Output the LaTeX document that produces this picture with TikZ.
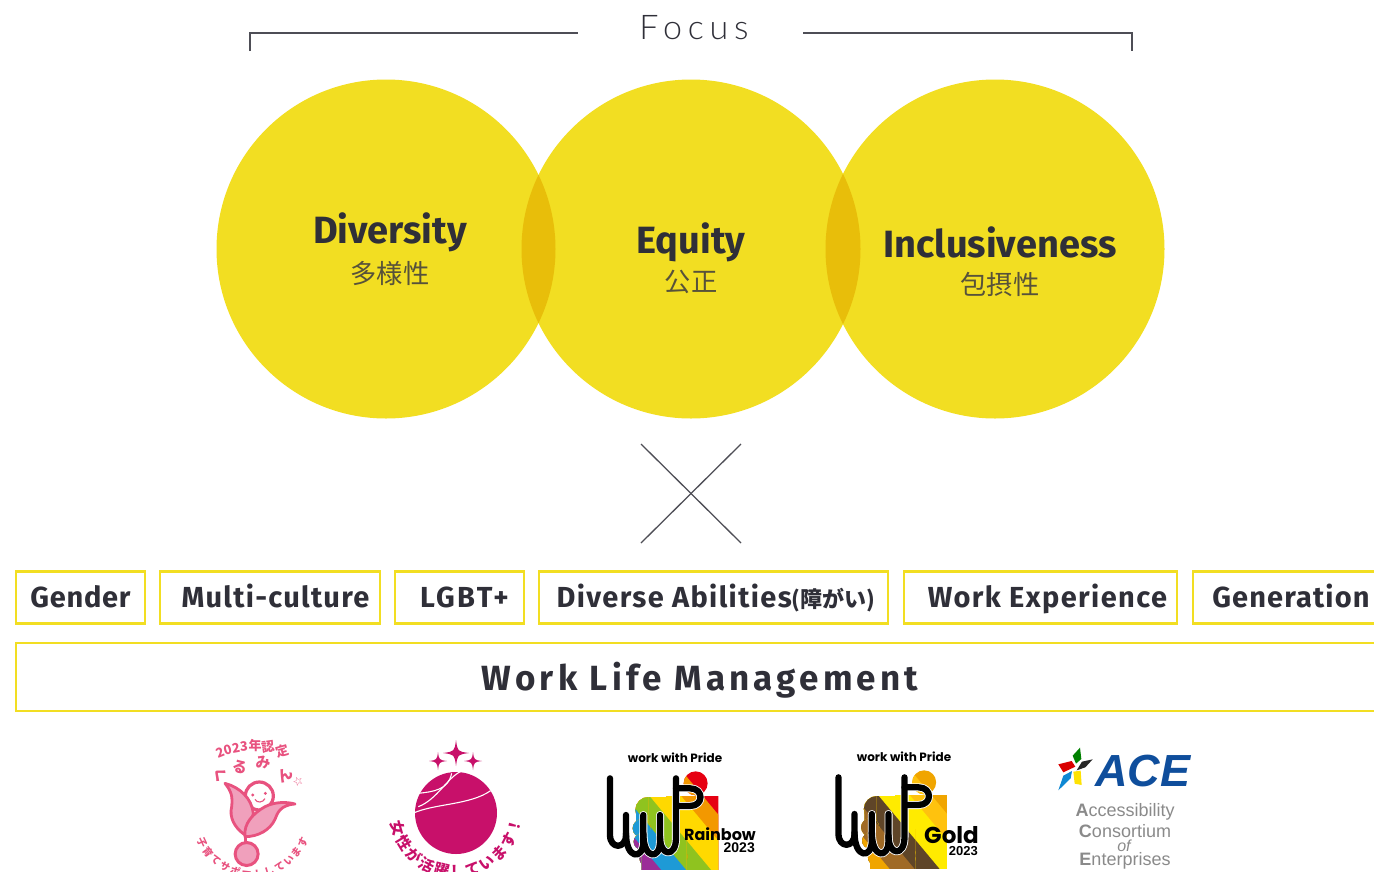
\documentclass[tikz,border=0pt]{standalone}
\usepackage{fontspec}
\setmainfont{Fira Sans}
\newfontfamily\cjk{Noto Sans CJK JP}
\newfontfamily\focusf[LetterSpace=17]{Lato Light}
\newfontfamily\tagf{Fira Sans}
\newfontfamily\widef[LetterSpace=12]{Fira Sans}
\newfontfamily\popf{Poppins}
\newfontfamily\libf{Liberation Sans}
\newfontfamily\djf{DejaVu Sans}
\newcommand\lsp[1]{\addfontfeature{LetterSpace=#1}}
\definecolor{ey}{HTML}{F2DE22}
\definecolor{eyd}{HTML}{E8BE0A}
\definecolor{ink}{HTML}{2F2F38}
\definecolor{jp}{HTML}{57523A}
\definecolor{kpink}{HTML}{E8527F}
\definecolor{kfill}{HTML}{F0A0BC}
\definecolor{magenta1}{HTML}{C8106A}
\definecolor{aceb}{HTML}{0F4E9C}
\definecolor{aceg}{HTML}{8A8A8A}
\definecolor{r1}{HTML}{E60012}\definecolor{r2}{HTML}{F39800}\definecolor{r3}{HTML}{FFD900}
\definecolor{r4}{HTML}{8FC31F}\definecolor{r5}{HTML}{1E9AD6}\definecolor{r6}{HTML}{9B2D98}
\definecolor{g1}{HTML}{F0A500}\definecolor{g2}{HTML}{FFC20E}\definecolor{g3}{HTML}{FFEB00}
\definecolor{g4}{HTML}{5F4528}\definecolor{g5}{HTML}{A06A26}\definecolor{g6}{HTML}{F0A500}
\tikzset{
 circ/.style={fill=ey,draw=none},
 tagbox/.style={draw=ey,line width=2.2pt,minimum height=52pt,inner sep=0pt,text height=20pt,text depth=0pt,font=\tagf\bfseries\fontsize{29}{30}\selectfont,text=ink},
 head/.style={font=\bfseries\fontsize{38}{40}\selectfont,text=ink,inner sep=0pt},
 subj/.style={font=\cjk\fontsize{26.3}{27}\selectfont,text=jp,inner sep=0pt},
 rulel/.style={draw=ink!85,line width=1.3pt},
 plain/.style={inner sep=0pt},
 wwp/.style={line width=6.3pt,draw=black,line cap=round,line join=round},
 halo/.style={line width=8pt,draw=white,line cap=round,line join=round},
}
\newcommand\sparkle[3]{\fill[magenta1] ({#1},{#2-#3}) .. controls ({#1+.12*#3},{#2-.12*#3}) .. ({#1+#3},{#2}) .. controls ({#1+.12*#3},{#2+.12*#3}) .. ({#1},{#2+#3}) .. controls ({#1-.12*#3},{#2+.12*#3}) .. ({#1-#3},{#2}) .. controls ({#1-.12*#3},{#2-.12*#3}) .. ({#1},{#2-#3});}
\newcommand\stripes[6]{%
 \fill[#1] (0,0) rectangle (400,320);
 \fill[#2] (310,80) -- (490,296) -- (490,330) -- (0,330) -- (0,-10) -- (235,-10) -- cycle;
 \fill[#3] (245,80) -- (445,320) -- (0,320) -- (0,-10) -- (170,-10) -- cycle;
 \fill[#4] (150,80) -- (350,320) -- (0,320) -- (0,-10) -- (75,-10) -- cycle;
 \fill[#5] (75,80) -- (275,320) -- (0,320) -- (0,-10) -- cycle;
 \fill[#6] (0,80) -- (200,320) -- (0,320) -- cycle;
}
\newcommand\blob[6]{%
 \begin{scope}\clip (287,40) circle[radius=12pt]; \stripes{#1}{#2}{#3}{#4}{#5}{#6}\end{scope}
 \begin{scope}\clip (200,80) rectangle (355,297); \stripes{#1}{#2}{#3}{#4}{#5}{#6}\end{scope}
 \begin{scope}\clip (145,120) circle[radius=13pt]; \stripes{#1}{#2}{#3}{#4}{#5}{#6}\end{scope}
 \begin{scope}\clip (108,120) rectangle (230,200); \stripes{#1}{#2}{#3}{#4}{#5}{#6}\end{scope}
 \begin{scope}\clip (145,82) rectangle (230,200); \stripes{#1}{#2}{#3}{#4}{#5}{#6}\end{scope}
 \begin{scope}\clip (125,175) circle[radius=9pt]; \stripes{#1}{#2}{#3}{#4}{#5}{#6}\end{scope}
 \begin{scope}\clip (125,215) circle[radius=8pt]; \stripes{#1}{#2}{#3}{#4}{#5}{#6}\end{scope}
 \begin{scope}\clip (155,260) circle[radius=12.5pt]; \stripes{#1}{#2}{#3}{#4}{#5}{#6}\end{scope}
 \begin{scope}\clip (225,260) circle[radius=12.5pt]; \stripes{#1}{#2}{#3}{#4}{#5}{#6}\end{scope}
 \begin{scope}\clip (125,180) rectangle (260,297); \stripes{#1}{#2}{#3}{#4}{#5}{#6}\end{scope}
}
\newcommand\wwpmark[1]{%
 \draw[#1] (30,25) -- (30,195) .. controls (30,238) and (78,238) .. (78,195) -- (78,135);
 \draw[#1] (78,190) .. controls (78,270) and (130,270) .. (130,215) -- (130,135);
 \draw[#1] (130,190) .. controls (130,270) and (180,270) .. (180,215) -- (180,135);
 \draw[#1] (180,200) .. controls (180,262) and (228,262) .. (228,205) -- (228,25);
 \draw[#1] (228,55) -- (270,55) .. controls (312,55) and (312,108) .. (270,108) -- (238,108);
}
\begin{document}
\begin{tikzpicture}[x=1pt,y=-1pt]
\useasboundingbox (0,0) rectangle (1374,871);
\clip (0,0) rectangle (1374,871);
\coordinate (bl1) at (250,51); \coordinate (bl2) at (250,33); \coordinate (bl3) at (578,33);
\coordinate (br1) at (803,33); \coordinate (br2) at (1132,33); \coordinate (br3) at (1132,51);
\draw[rulel] (bl1) -- (bl2) -- (bl3);
\draw[rulel] (br1) -- (br2) -- (br3);
\node[plain,text=ink,font=\focusf\fontsize{34}{36}\selectfont] (focus) at (694,28) {Focus};
\fill[circ] (386,249) circle[radius=169.5pt];
\fill[circ] (691,249) circle[radius=169.5pt];
\fill[circ] (995,249) circle[radius=169.5pt];
\begin{scope}\clip (386,249) circle[radius=169.5pt]; \fill[eyd] (691,249) circle[radius=169.5pt];\end{scope}
\begin{scope}\clip (691,249) circle[radius=169.5pt]; \fill[eyd] (995,249) circle[radius=169.5pt];\end{scope}
\node[head] (d) at (390,232) {Diversity};
\node[subj] (dj1) at (390,273) {多様性};
\node[head] (e) at (691,242) {Equity};
\node[subj] (ej1) at (691,282) {公正};
\node[head] (i) at (1000,242) {Inclusiveness};
\node[subj] (ij1) at (1000,285) {包摂性};
\coordinate (x1) at (641,444); \coordinate (x2) at (741,543); \coordinate (x3) at (741,444); \coordinate (x4) at (641,543);
\draw[rulel] (x1) -- (x2);
\draw[rulel] (x3) -- (x4);
\node[tagbox,minimum width=129pt] (t1) at (80.5,597.5) {\lsp{2.5}Gender};
\node[tagbox,minimum width=220pt] (t2) at (270,597.5) {\hspace*{11pt}\lsp{4.4}Multi-culture};
\node[tagbox,minimum width=129pt] (t3) at (459.5,597.5) {\hspace*{10pt}\lsp{8}LGBT+};
\node[tagbox,minimum width=349pt] (t4) at (713.5,597.5) {\hspace*{5pt}\lsp{4.7}Diverse Abilities{\cjk\bfseries\fontsize{22}{22}\selectfont (障がい)}};
\node[tagbox,minimum width=273pt] (t5) at (1040.5,597.5) {\hspace*{14pt}\lsp{4.8}Work Experience};
\node[tagbox,minimum width=194pt] (t6) at (1290,597.5) {\hspace*{2pt}\lsp{3.9}Generation};
\node[tagbox,minimum width=1368pt,minimum height=68pt,text height=26pt,font=\widef\bfseries\fontsize{35}{36}\selectfont] (wlm) at (700,677) {Work Life Management};
% Kurumin
\foreach \t/\px/\py/\r/\s in {2/220/753/22/13,0/228/750/16/13,2/236/748/10/13,3/244/746/5/13,年/255/746/0/13,認/268/747/8/13,定/282/751/16/13,く/220/775/-40/15,る/240/767/-15/15,み/263/763/5/15,ん/285/775/30/15}
 \node[plain,text=kpink,font=\cjk\bfseries\fontsize{\s}{\s}\selectfont,rotate=\r] (k\px) at (\px,\py) {\t};
\node[plain,text=kpink,font=\djf\bfseries\fontsize{12}{12}\selectfont,rotate=25] (kst) at (298,781) {☆};
\foreach \t [count=\n] in {子,育,て,サ,ポ,ー,ト,し,て,い,ま,す}
 \node[plain,text=kpink,font=\cjk\bfseries\fontsize{10}{10}\selectfont,rotate={-65+(\n-1)*11.8}] (kb\n) at ({252.5+55.7*sin(-65+(\n-1)*11.8)},{818.6+55.7*cos(-65+(\n-1)*11.8)}) {\t};
\begin{scope}[shift={(190,780)},x=.3333pt,y=-.3333pt]
 \draw[kpink,line width=3pt,line join=round] (168,195) -- (168,150);
 \fill[white] (208,48) circle[radius=14pt];
 \draw[kpink,line width=3.2pt] (208,48) circle[radius=14pt];
 \fill[kfill,draw=kpink,line width=2.8pt,line join=round] (105,10) .. controls (150,22) and (185,55) .. (190,100) .. controls (185,125) and (170,140) .. (165,165) .. controls (130,140) and (118,110) .. (125,80) .. controls (128,50) and (125,35) .. (105,10) -- cycle;
 \fill[kfill,draw=kpink,line width=2.8pt,line join=round] (315,72) .. controls (270,75) and (262,100) .. (255,118) .. controls (240,150) and (205,170) .. (165,170) .. controls (160,130) and (190,100) .. (225,80) .. controls (255,65) and (290,65) .. (315,72) -- cycle;
 \fill[kpink] (188,45) circle[radius=1.6pt] (226,40) circle[radius=1.6pt];
 \draw[kpink,line width=1.1pt] (195,58) .. controls (202,70) and (218,68) .. (225,56);
 \fill[kfill,draw=kpink,line width=3pt] (170,222) circle[radius=11.5pt];
\end{scope}
% Eruboshi
\sparkle{456}{753}{13}
\sparkle{438}{761}{9}
\sparkle{473}{761}{9}
\fill[magenta1] (456,813) circle[radius=41pt];
\begin{scope}[shift={(170,725)},x=.3333pt,y=-.3333pt]
 \draw[white,line width=1.1pt] (872,140) .. controls (835,155) and (800,225) .. (745,245);
 \draw[white,line width=1.1pt] (745,205) .. controls (790,200) and (835,195) .. (845,145);
 \draw[white,line width=1.1pt] (962,197) .. controls (900,240) and (800,235) .. (733,263);
\end{scope}
\foreach \t [count=\n] in {女,性,が,活,躍,し,て,い,ま,す,！}
 \node[plain,text=magenta1,font=\cjk\bfseries\fontsize{15}{15}\selectfont,rotate={-74+(\n-1)*15.1}] (eb\n) at ({456+60*sin(-74+(\n-1)*15.1)},{812+60*cos(-74+(\n-1)*15.1)}) {\t};
% PRIDE rainbow
\node[plain,font=\popf\bfseries\fontsize{12}{13}\selectfont,text=black] (wp1) at (675,758) {work with Pride};
\begin{scope}[shift={(600,770)},x=.3333pt,y=-.3333pt]
 \blob{r1}{r2}{r3}{r4}{r5}{r6}
 \wwpmark{halo}
 \wwpmark{wwp}
\end{scope}
\node[plain,font=\popf\bfseries\fontsize{16}{17}\selectfont,anchor=east] (wp2) at (756,834) {Rainbow};
\node[plain,font=\libf\bfseries\fontsize{14}{15}\selectfont,anchor=east] (wp3) at (755,848) {2023};
% PRIDE gold
\node[plain,font=\popf\bfseries\fontsize{12}{13}\selectfont,text=black] (wg1) at (904,757) {work with Pride};
\begin{scope}[shift={(828.5,769)},x=.3333pt,y=-.3333pt]
 \blob{g1}{g2}{g3}{g4}{g5}{g6}
 \wwpmark{halo}
 \wwpmark{wwp}
\end{scope}
\node[plain,font=\popf\bfseries\fontsize{23}{24}\selectfont,anchor=east] (wg2) at (979,835) {Gold};
\node[plain,font=\libf\bfseries\fontsize{13}{14}\selectfont,anchor=east] (wg3) at (978,851) {2023};
% ACE
\begin{scope}[shift={(1040,735)},x=.3333pt,y=-.3333pt]
 \fill[green!50!black] (120,38) -- (124,72) -- (108,86) -- (98,62) -- cycle;
 \fill[black!85] (158,73) -- (126,80) -- (110,106) -- (136,97) -- cycle;
 \fill[red!85!black] (55,88) -- (95,78) -- (106,95) -- (70,112) -- cycle;
 \fill[yellow!85!orange] (100,110) -- (122,107) -- (125,150) -- (104,146) -- cycle;
 \fill[cyan!70!blue] (55,166) -- (70,122) -- (96,108) -- (92,130) -- cycle;
\end{scope}
\node[plain,font=\libf\bfseries\itshape\fontsize{45}{46}\selectfont,text=aceb] (ace) at (1143,771) {ACE};
\node[plain,font=\libf\fontsize{18}{19}\selectfont,text=aceg] (a1) at (1125,812) {\textbf{A}ccessibility};
\node[plain,font=\libf\fontsize{18}{19}\selectfont,text=aceg] (a2) at (1125,831) {\textbf{C}onsortium};
\node[plain,font=\libf\itshape\fontsize{16}{17}\selectfont,text=aceg] (a3) at (1124,846) {of};
\node[plain,font=\libf\fontsize{18}{19}\selectfont,text=aceg] (a4) at (1125,861) {\textbf{E}nterprises};
\end{tikzpicture}
\end{document}
